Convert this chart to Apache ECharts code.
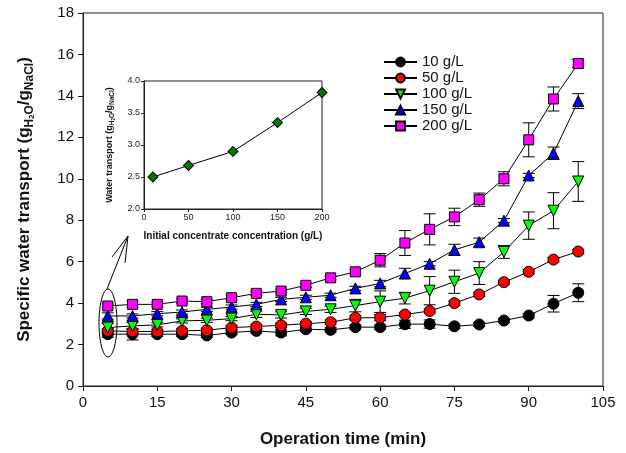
<!DOCTYPE html>
<html>
<head>
<meta charset="UTF-8">
<title>Specific water transport</title>
<script src="https://cdn.jsdelivr.net/npm/echarts@6/dist/echarts.min.js"></script>
<style>
    html, body { margin: 0; padding: 0; background: #fff; }
    #chart { width: 626px; height: 453px; }
</style>
</head>
<body>
<div id="chart"></div>
<script>
// operation time (min)
var times = [5, 10, 15, 20, 25, 30, 35, 40, 45, 50, 55, 60, 65, 70, 75, 80, 85, 90, 95, 100];
var xTicks = [0, 15, 30, 45, 60, 75, 90, 105];
var yTicks = [0, 2, 4, 6, 8, 10, 12, 14, 16, 18];

// specific water transport per initial concentration
var s10  = [2.50, 2.50, 2.50, 2.50, 2.44, 2.58, 2.66, 2.58, 2.74, 2.71, 2.84, 2.84, 2.98, 2.99, 2.88, 2.97, 3.16, 3.40, 3.97, 4.50];
var s50  = [2.66, 2.63, 2.63, 2.66, 2.69, 2.82, 2.87, 2.93, 3.01, 3.08, 3.29, 3.30, 3.45, 3.62, 4.00, 4.42, 5.01, 5.51, 6.10, 6.49];
var s100 = [2.82, 2.90, 2.95, 3.14, 3.17, 3.25, 3.46, 3.43, 3.60, 3.70, 3.88, 4.07, 4.24, 4.60, 5.03, 5.45, 6.47, 7.74, 8.46, 9.87];
var s150 = [3.38, 3.38, 3.49, 3.57, 3.70, 3.81, 3.94, 4.18, 4.28, 4.38, 4.71, 4.95, 5.43, 5.90, 6.57, 6.94, 7.98, 10.16, 11.23, 13.75];
var s200 = [3.86, 3.94, 3.94, 4.10, 4.07, 4.26, 4.47, 4.58, 4.86, 5.22, 5.51, 6.07, 6.90, 7.56, 8.16, 8.99, 10.00, 11.88, 13.85, 15.56];

// error (+/-)
var e10  = [0.15, 0.28, 0.10, 0.10, 0.10, 0.10, 0.10, 0.16, 0.10, 0.10, 0.10, 0.10, 0.20, 0.20, 0.10, 0.10, 0.10, 0.10, 0.40, 0.43];
var e50  = [0.10, 0.10, 0.10, 0.10, 0.10, 0.10, 0.10, 0.10, 0.10, 0.10, 0.10, 0.15, 0.10, 0.10, 0.10, 0.10, 0.10, 0.10, 0.10, 0.10];
var e100 = [0.20, 0.15, 0.10, 0.10, 0.10, 0.10, 0.15, 0.15, 0.15, 0.15, 0.30, 0.52, 0.28, 0.68, 0.56, 0.55, 0.31, 0.66, 0.87, 0.96];
var e150 = [0.15, 0.10, 0.10, 0.10, 0.10, 0.10, 0.10, 0.10, 0.10, 0.10, 0.10, 0.15, 0.25, 0.10, 0.27, 0.20, 0.10, 0.10, 0.30, 0.36];
var e200 = [0.10, 0.15, 0.10, 0.10, 0.10, 0.10, 0.10, 0.10, 0.10, 0.10, 0.10, 0.32, 0.60, 0.75, 0.42, 0.32, 0.34, 0.82, 0.58, 0.20];

// inset: water transport vs initial concentrate concentration
var conc = [10, 50, 100, 150, 200];
var inset = [2.50, 2.68, 2.90, 3.35, 3.82];

var names = ['10 g/L', '50 g/L', '100 g/L', '150 g/L', '200 g/L'];
var FONT = 'Arial, "Liberation Sans", sans-serif';
var downTri = 'path://M0,0 L10,0 L5,9 Z';

var chart = echarts.init(document.getElementById('chart'));

function pairs(xs, ys) {
    return xs.map(function (x, i) { return [x, ys[i]]; });
}

function errSeries(vals, errs) {
    return {
        type: 'custom',
        xAxisIndex: 0, yAxisIndex: 0,
        z: 1,
        silent: true,
        data: times.map(function (t, i) { return [t, vals[i] - errs[i], vals[i] + errs[i]]; }),
        renderItem: function (params, api) {
            var lo = api.coord([api.value(0), api.value(1)]);
            var hi = api.coord([api.value(0), api.value(2)]);
            var w = 6;
            var st = { stroke: '#000', lineWidth: 1 };
            return {
                type: 'group',
                children: [
                    { type: 'line', shape: { x1: lo[0], y1: lo[1], x2: hi[0], y2: hi[1] }, style: st },
                    { type: 'line', shape: { x1: lo[0] - w, y1: lo[1], x2: lo[0] + w, y2: lo[1] }, style: st },
                    { type: 'line', shape: { x1: hi[0] - w, y1: hi[1], x2: hi[0] + w, y2: hi[1] }, style: st }
                ]
            };
        }
    };
}

function lineSeries(name, vals, symbol, color, size) {
    return {
        name: name,
        type: 'line',
        xAxisIndex: 0, yAxisIndex: 0,
        z: 3,
        data: pairs(times, vals),
        symbol: symbol,
        symbolSize: size,
        showAllSymbol: true,
        lineStyle: { color: '#000', width: 1 },
        itemStyle: { color: color, borderColor: '#000', borderWidth: 1 },
        emphasis: { disabled: true }
    };
}

// ellipse around the 5 min points (annotation)
var ell = [];
for (var k = 0; k <= 48; k++) {
    var a = k / 48 * Math.PI * 2;
    ell.push([108 + 9 * Math.cos(a), 323 + 34 * Math.sin(a)]);
}

var axisCol = '#222';

chart.setOption({
    animation: false,
    backgroundColor: '#fff',
    textStyle: { fontFamily: FONT },
    grid: [
        { left: 83, top: 13, width: 520, height: 374, show: true, borderColor: axisCol, borderWidth: 1 },
        { left: 144, top: 81, width: 178, height: 128, show: true, borderColor: axisCol, borderWidth: 1 }
    ],
    legend: {
        data: names,
        orient: 'vertical',
        left: 378,
        top: 49,
        itemWidth: 33,
        itemHeight: 11,
        itemGap: 0,
        textStyle: { fontSize: 15, color: '#111', fontFamily: FONT, lineHeight: 16 },
        selectedMode: false
    },
    xAxis: [
        {
            gridIndex: 0, type: 'value', min: xTicks[0], max: xTicks[xTicks.length - 1], interval: 15,
            name: 'Operation time (min)', nameLocation: 'middle', nameGap: 45,
            nameTextStyle: { fontSize: 17, fontWeight: 'bold', color: '#111' },
            axisLine: { lineStyle: { color: axisCol } },
            axisTick: { inside: false, length: 5, lineStyle: { color: axisCol } },
            axisLabel: { fontSize: 15, color: '#111', margin: 9 },
            splitLine: { show: false }
        },
        {
            gridIndex: 1, type: 'value', min: 0, max: 200, interval: 50,
            name: 'Initial concentrate concentration (g/L)', nameLocation: 'middle', nameGap: 22,
            nameTextStyle: { fontSize: 10, fontWeight: 'bold', color: '#111' },
            axisLine: { lineStyle: { color: axisCol } },
            axisTick: { length: 3, lineStyle: { color: axisCol } },
            axisLabel: { fontSize: 9, color: '#222', margin: 4 },
            splitLine: { show: false }
        }
    ],
    yAxis: [
        {
            gridIndex: 0, type: 'value', min: yTicks[0], max: yTicks[yTicks.length - 1], interval: 2,
            name: '{m|Specific water transport (g}{s|H}{ss|2}{s|O}{m|/g}{s|NaCl}{m|)}',
            nameLocation: 'middle', nameGap: 47, nameRotate: 90,
            nameTextStyle: {
                rich: {
                    m: { fontSize: 17, fontWeight: 'bold', color: '#111', fontFamily: FONT, lineHeight: 23 },
                    s: { fontSize: 12, fontWeight: 'bold', color: '#111', fontFamily: FONT, verticalAlign: 'bottom', lineHeight: 23 },
                    ss: { fontSize: 7.5, fontWeight: 'bold', color: '#111', fontFamily: FONT, verticalAlign: 'bottom', lineHeight: 21 }
                }
            },
            axisLine: { show: true, lineStyle: { color: axisCol } },
            axisTick: { show: true, length: 5, lineStyle: { color: axisCol } },
            axisLabel: { fontSize: 15, color: '#111', margin: 9 },
            splitLine: { show: false }
        },
        {
            gridIndex: 1, type: 'value', min: 2, max: 4, interval: 0.5,
            name: '{m|Water transport (g}{s|H}{ss|2}{s|O}{m|/g}{s|NaCl}{m|)}',
            nameLocation: 'middle', nameGap: 28, nameRotate: 90,
            nameTextStyle: {
                rich: {
                    m: { fontSize: 9, fontWeight: 'bold', color: '#111', fontFamily: FONT, lineHeight: 12 },
                    s: { fontSize: 6.5, fontWeight: 'bold', color: '#111', fontFamily: FONT, verticalAlign: 'bottom', lineHeight: 12 },
                    ss: { fontSize: 4.5, fontWeight: 'bold', color: '#111', fontFamily: FONT, verticalAlign: 'bottom', lineHeight: 11 }
                }
            },
            axisLine: { show: true, lineStyle: { color: axisCol } },
            axisTick: { show: true, length: 3, lineStyle: { color: axisCol } },
            axisLabel: { fontSize: 9, color: '#222', margin: 4, formatter: function (v) { return v.toFixed(1); } },
            splitLine: { show: false }
        }
    ],
    series: [
        errSeries(s10, e10),
        errSeries(s50, e50),
        errSeries(s100, e100),
        errSeries(s150, e150),
        errSeries(s200, e200),
        lineSeries(names[0], s10, 'circle', '#000000', 11),
        lineSeries(names[1], s50, 'circle', '#ff0000', 11),
        lineSeries(names[2], s100, downTri, '#00ff00', 11),
        lineSeries(names[3], s150, 'triangle', '#0000ff', 11),
        lineSeries(names[4], s200, 'rect', '#ff00ff', 10),
        {
            type: 'line',
            xAxisIndex: 1, yAxisIndex: 1,
            data: pairs(conc, inset),
            symbol: 'rect', symbolRotate: 45, symbolSize: 7,
            lineStyle: { color: '#000', width: 1 },
            itemStyle: { color: '#007a00', borderColor: '#000', borderWidth: 1 },
            emphasis: { disabled: true }
        }
    ],
    graphic: [
        { type: 'polyline', shape: { points: ell }, style: { stroke: '#000', lineWidth: 1, fill: null } },
        { type: 'polyline', shape: { points: [[107, 289], [128, 236]] }, style: { stroke: '#000', lineWidth: 1, fill: null } },
        { type: 'polyline', shape: { points: [[112, 257], [128, 236], [125, 263]] }, style: { stroke: '#000', lineWidth: 1, fill: null } }
    ]
});
</script>
</body>
</html>
